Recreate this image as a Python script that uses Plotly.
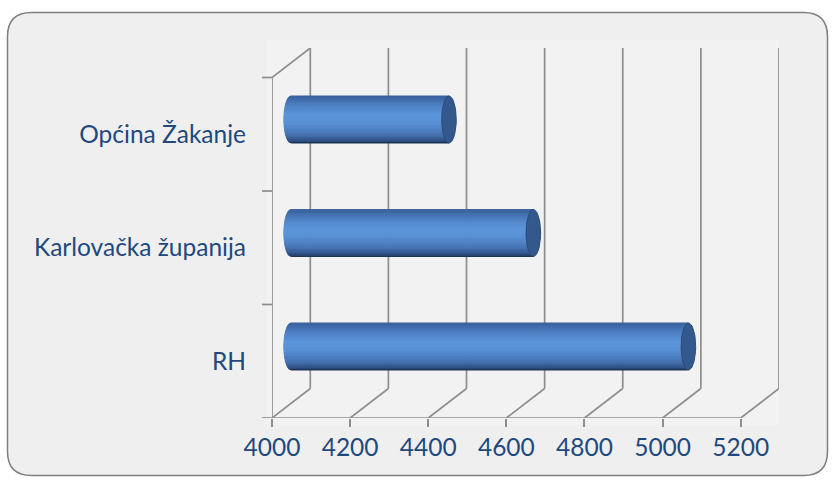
import numpy as np
import plotly.graph_objects as go

# ---- data -------------------------------------------------------------
categories = ["RH", "Karlovačka županija", "Općina Žakanje"]
values = [5017, 4620, 4404]
tick_values = [4000, 4200, 4400, 4600, 4800, 5000, 5200]

# ---- geometry ---------------------------------------------------------
W, H = 834, 481
L, R, T, B = 272, 55, 48, 63
PW, PH = W - L - R, H - T - B
X0 = tick_values[0]
XMAX = tick_values[-1]
DX = 98            # depth offset of the back wall, in x units
DY = 0.26          # depth offset of the back wall, in category units
BAR_HALF = 0.207   # half height of a cylinder (category units)
CAP_A = 18.7       # horizontal semi-axis of the end ellipses (x units)

TEXT = "#1F497D"
GRID = "#8E8E8E"
FONT = "Lato"
FSIZE = 24.5


def px_to_paper(px, py):
    return (px - L) / PW, (H - B - py) / PH


fig = go.Figure()

# ---- cylinder bodies (horizontal shading strips) ----------------------
stops_t = [-1.0, -0.88, -0.6, -0.15, 0.20, 0.55, 0.85, 1.0]
stops_c = [(24, 42, 72), (48, 82, 134), (70, 116, 180), (88, 144, 212),
           (92, 149, 218), (80, 132, 200), (66, 110, 172), (58, 96, 155)]


def shade(t):
    c = [np.interp(t, stops_t, [s[i] for s in stops_c]) for i in range(3)]
    return "rgb(%d,%d,%d)" % tuple(int(round(v)) for v in c)


N = 36
edges = np.linspace(-1, 1, N + 1)
x_start = X0 + DX / 2
for k in range(N):
    t0, t1 = edges[k], edges[k + 1]
    ts = np.linspace(t0, t1, 6)
    xs, ys = [], []
    for i, v in enumerate(values):
        yc = i + DY / 2
        x_end = v + DX / 2
        left = x_start - CAP_A * np.sqrt(np.clip(1 - ts ** 2, 0, 1))
        xs += list(left) + [x_end, x_end, left[0], None]
        ys += list(yc + ts * BAR_HALF) + [yc + t1 * BAR_HALF, yc + t0 * BAR_HALF,
                                          yc + t0 * BAR_HALF, None]
    col = shade((t0 + t1) / 2)
    fig.add_trace(go.Scatter(x=xs, y=ys, mode="lines", fill="toself",
                             fillcolor=col, line=dict(color=col, width=1),
                             hoverinfo="skip", showlegend=False))

# ---- end caps -----------------------------------------------------------
th = np.linspace(0, 2 * np.pi, 60)
cx, cy = [], []
for i, v in enumerate(values):
    yc = i + DY / 2
    x_end = v + DX / 2
    cx += list(x_end + CAP_A * np.cos(th)) + [None]
    cy += list(yc + BAR_HALF * np.sin(th)) + [None]
fig.add_trace(go.Scatter(x=cx, y=cy, mode="lines", fill="toself",
                         fillcolor="#32588C", line=dict(color="#2A4B78", width=1),
                         hoverinfo="skip", showlegend=False))

# ---- 3D frame: back wall, floor, left wall ------------------------------
shapes = []
line = dict(color=GRID, width=1.7)
for v in tick_values:
    shapes.append(dict(type="line", xref="x", yref="y", layer="below",
                       x0=v + DX, x1=v + DX, y0=-0.5 + DY, y1=2.5 + DY, line=line))
    shapes.append(dict(type="line", xref="x", yref="y", layer="below",
                       x0=v, x1=v + DX, y0=-0.5, y1=-0.5 + DY, line=line))
shapes.append(dict(type="line", xref="x", yref="y", layer="below",
                   x0=X0, x1=XMAX, y0=-0.5, y1=-0.5, line=line))
shapes.append(dict(type="line", xref="x", yref="y", layer="below",
                   x0=X0, x1=X0, y0=-0.5, y1=2.5, line=line))
shapes.append(dict(type="line", xref="x", yref="y", layer="below",
                   x0=X0, x1=X0 + DX, y0=2.5, y1=2.5 + DY, line=line))
# category tick marks on the left wall
for yb in [-0.5, 0.5, 1.5, 2.5]:
    shapes.append(dict(type="line", xref="paper", yref="y", xsizemode="pixel",
                       xanchor=0, x0=-10, x1=0, y0=yb, y1=yb, line=line))

# ---- chart background with rounded border -----------------------------
def rounded_rect(x0, y0, x1, y1, r):
    p = lambda x, y: "%.5f,%.5f" % px_to_paper(x, y)
    return ("M" + p(x0 + r, y0) + " L" + p(x1 - r, y0) +
            " Q" + p(x1, y0) + " " + p(x1, y0 + r) +
            " L" + p(x1, y1 - r) + " Q" + p(x1, y1) + " " + p(x1 - r, y1) +
            " L" + p(x0 + r, y1) + " Q" + p(x0, y1) + " " + p(x0, y1 - r) +
            " L" + p(x0, y0 + r) + " Q" + p(x0, y0) + " " + p(x0 + r, y0) + " Z")


bg_shapes = [
    dict(type="path", xref="paper", yref="paper", layer="below",
         path=rounded_rect(7.5, 12.5, 827.5, 475.5, 24),
         fillcolor="#EFEFEF", line=dict(color="#7F7F7F", width=1.5)),
]
ax0, ay0 = px_to_paper(266, 40)
ax1, ay1 = px_to_paper(779, 425)
bg_shapes.append(dict(type="rect", xref="paper", yref="paper", layer="below",
                      x0=ax0, x1=ax1, y0=ay1, y1=ay0,
                      fillcolor="#F2F2F2", line=dict(width=0)))

fig.update_layout(
    width=W, height=H,
    margin=dict(l=L, r=R, t=T, b=B),
    paper_bgcolor="white",
    plot_bgcolor="rgba(0,0,0,0)",
    shapes=bg_shapes + shapes,
    font=dict(family=FONT, size=FSIZE, color=TEXT),
    xaxis=dict(range=[X0, XMAX + DX], tickvals=tick_values,
               ticktext=[str(v) for v in tick_values],
               showgrid=False, zeroline=False, showline=False,
               ticks="outside", ticklen=8, tickwidth=1.7, tickcolor=GRID,
               tickfont=dict(family=FONT, size=FSIZE, color=TEXT)),
    yaxis=dict(range=[-0.5, 2.5 + DY], tickvals=[0, 1, 2], ticktext=categories,
               showgrid=False, zeroline=False, showline=False,
               ticks="", ticklabelstandoff=25,
               tickfont=dict(family=FONT, size=FSIZE, color=TEXT)),
)

fig.write_html("out.html")
